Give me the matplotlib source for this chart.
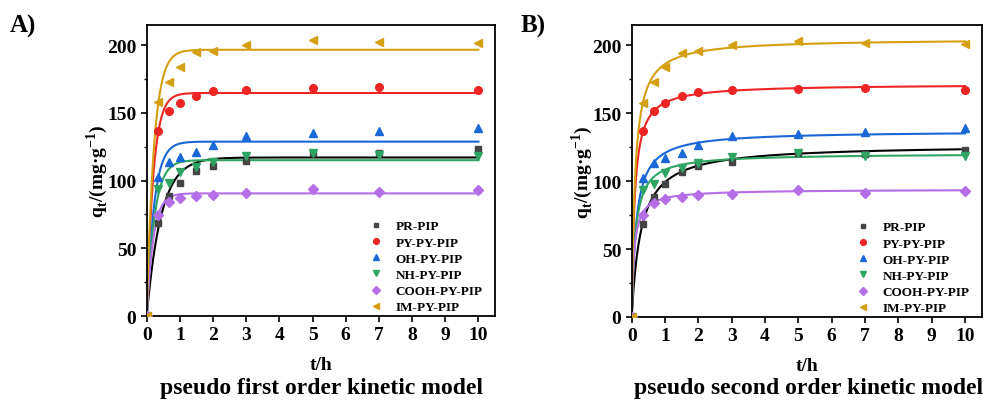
import numpy as np
import matplotlib.pyplot as plt

plt.rcParams['font.family'] = ['Liberation Serif', 'DejaVu Serif']
plt.rcParams['font.weight'] = 'bold'

# sampling times (h)
t = [0, 0.33, 0.67, 1, 1.5, 2, 3, 5, 7, 10]

names = ['PR-PIP', 'PY-PY-PIP', 'OH-PY-PIP', 'NH-PY-PIP', 'COOH-PY-PIP', 'IM-PY-PIP']

# measured adsorption capacity q_t (mg/g)
q_pr = [0, 68.6, 88.3, 97.9, 107, 111, 114.5, 120.5, 120.3, 123.2]
q_py = [0, 136.8, 151.5, 157.4, 162.4, 166, 167, 168, 168.8, 167]
q_oh = [0, 102.4, 113.4, 117.3, 121, 126.4, 133, 134.8, 136.5, 139]
q_nh = [0, 93.7, 97.9, 106, 110, 113.4, 117.8, 120.5, 118.8, 118.3]
q_cooh = [0, 74.8, 83.9, 86.8, 88.6, 89.5, 90.8, 93.7, 91.3, 92.7]
q_im = [0, 157.7, 172.9, 183.8, 194.6, 195.8, 200.2, 203.4, 202, 201.2]

# fitted parameters
pfo_qe = [117, 164.6, 128.7, 115, 90.5, 196.5]
pfo_k1 = [2.3, 5.0, 4.5, 4.3, 5.0, 4.6]
pso_qe = [127, 171.5, 137, 120.5, 94, 205]
pso_k2 = [0.0283, 0.0671, 0.0547, 0.0747, 0.1436, 0.0488]

colors = ['#222222', '#ee2525', '#1a68d8', '#2fa564', '#b46ee6', '#d4a012']
markers = ['s', 'o', '^', 'v', 'D', '<']
msizes = [4.5, 5.5, 6, 6, 5, 6]

series = [q_pr, q_py, q_oh, q_nh, q_cooh, q_im]
tt = np.linspace(0, 10, 400)

fig = plt.figure(figsize=(9.98, 4.1), dpi=100)
axA = fig.add_axes([0.147, 0.2268, 0.349, 0.7105])
axB = fig.add_axes([0.633, 0.2244, 0.3507, 0.712])

for ax, model in [(axA, 'pfo'), (axB, 'pso')]:
    for i in range(6):
        if model == 'pfo':
            fit = pfo_qe[i] * (1 - np.exp(-pfo_k1[i] * tt))
        else:
            a = pso_qe[i] * pso_k2[i]
            fit = pso_qe[i] * a * tt / (1 + a * tt)
        ax.plot(tt, fit, color='black' if i == 0 else colors[i], lw=1.5, zorder=2)
        mc = '#444444' if i == 0 else colors[i]
        ax.plot(t, series[i], ls='none', marker=markers[i], ms=msizes[i],
                color=mc, mec=mc, label=names[i], zorder=3)

    ax.set_xlim(0, 10.5)
    ax.set_ylim(0, 215)
    ax.set_xticks(range(0, 11))
    ax.set_yticks([0, 50, 100, 150, 200])
    ax.set_yticks([25, 75, 125, 175], minor=True)
    ax.tick_params(axis='both', which='major', labelsize=14, length=4, width=1.2)
    ax.tick_params(axis='y', which='minor', length=2.5, width=1.0)
    for lab in ax.get_xticklabels() + ax.get_yticklabels():
        lab.set_fontweight('bold')
    for sp in ax.spines.values():
        sp.set_linewidth(1.3)
    ax.set_xlabel('t/h', fontsize=14, fontweight='bold', labelpad=9)
    ax.set_ylabel('q$_\\mathregular{t}$/(mg·g$^\\mathregular{-1}$)', fontsize=14,
                  fontweight='bold', labelpad=-2)
    ax.legend(loc='lower right', bbox_to_anchor=(0.972, 0.0), frameon=False,
              handletextpad=0.95, labelspacing=0.3, borderaxespad=0.0, borderpad=0.2,
              handlelength=1.0, markerscale=0.75,
              prop={'weight': 'bold', 'size': 9.5})

fig.text(0.322, 0.04, 'pseudo first order kinetic model', ha='center', fontsize=17, fontweight='bold')
fig.text(0.81, 0.04, 'pseudo second order kinetic model', ha='center', fontsize=17, fontweight='bold')
fig.text(0.01, 0.92, 'A)', fontsize=18, fontweight='bold')
fig.text(0.522, 0.92, 'B)', fontsize=18, fontweight='bold')

plt.savefig('out.png', dpi=100)
